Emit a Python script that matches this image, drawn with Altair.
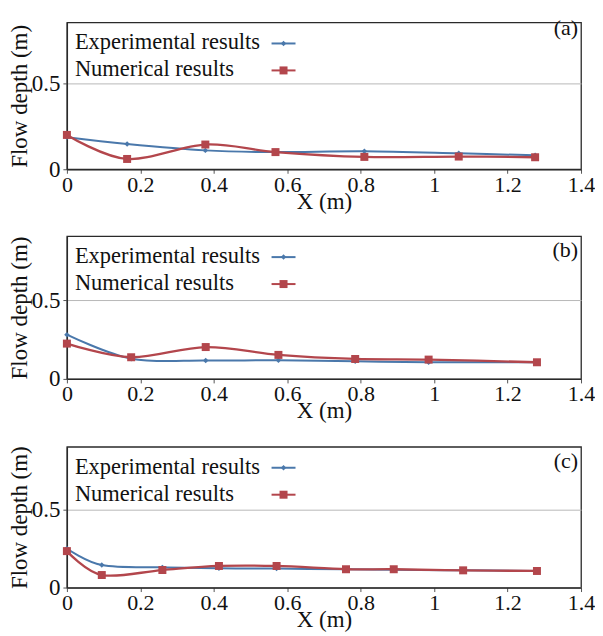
import altair as alt
import pandas as pd

# ---------------- data ----------------
series_names = ["Experimental results", "Numerical results"]
x_ticks = [0, 0.2, 0.4, 0.6, 0.8, 1.0, 1.2, 1.4]
y_ticks = [0, 0.5]

a_x = [0, 0.164, 0.377, 0.568, 0.81, 1.067, 1.275]
a_exp = [0.186, 0.147, 0.11, 0.10, 0.105, 0.093, 0.081]
a_num = [0.20, 0.06, 0.144, 0.10, 0.072, 0.074, 0.07]

b_x = [0, 0.175, 0.378, 0.576, 0.785, 0.985, 1.28]
b_exp = [0.282, 0.129, 0.117, 0.119, 0.112, 0.106, 0.106]
b_num = [0.225, 0.138, 0.203, 0.153, 0.127, 0.123, 0.106]

c_x = [0, 0.095, 0.26, 0.414, 0.571, 0.76, 0.89, 1.079, 1.28]
c_exp = [0.25, 0.144, 0.129, 0.123, 0.121, 0.117, 0.114, 0.11, 0.106]
c_num = [0.233, 0.08, 0.112, 0.138, 0.138, 0.117, 0.117, 0.11, 0.106]

panel_labels = ["(a)", "(b)", "(c)"]

# ---------------- style ----------------
FONT = "Liberation Serif"
BLUE = "#4a78ab"
RED = "#b3464c"
W = 515


def panel(xs, exp, num, label, h, ymax, label_y):
    df_e = pd.DataFrame({"x": xs, "y": exp})
    df_n = pd.DataFrame({"x": xs, "y": num})
    xenc = alt.X(
        "x:Q",
        scale=alt.Scale(domain=[0, 1.4], nice=False, zero=False),
        axis=alt.Axis(
            values=x_ticks, format="~g", title="X (m)", grid=False,
            labelFlush=False, labelOverlap=False, labelPadding=1,
            tickSize=4, titlePadding=-5, labelFontSize=22,
        ),
    )
    yenc = alt.Y(
        "y:Q",
        scale=alt.Scale(domain=[0, ymax], nice=False, zero=False),
        axis=alt.Axis(
            values=y_ticks, format="~g", title="Flow depth (m)", grid=True,
            labelPadding=3, tickSize=4, titleAngle=270, titleX=-47,
            titleY=h / 2, titleBaseline="middle", titleAlign="center",
        ),
    )
    line_e = alt.Chart(df_e).mark_line(
        color=BLUE, strokeWidth=2, interpolate="cardinal"
    ).encode(x=xenc, y=yenc)
    line_n = alt.Chart(df_n).mark_line(
        color=RED, strokeWidth=2.3, interpolate="cardinal"
    ).encode(x=xenc, y=yenc)
    pt_e = alt.Chart(df_e).mark_point(
        shape="diamond", filled=True, size=30, color=BLUE, opacity=1
    ).encode(x=xenc, y=yenc)
    pt_n = alt.Chart(df_n).mark_point(
        shape="square", filled=True, size=64, color=RED, opacity=1
    ).encode(x=xenc, y=yenc)

    layers = [line_e, line_n, pt_e, pt_n]

    # in-plot legend: label text followed by a line sample with marker
    leg_rows = [(series_names[0], BLUE, "diamond", 30, 27, 21),
                (series_names[1], RED, "square", 64, 54, 48)]
    for name, col, shp, sz, ty, sy in leg_rows:
        ldf = pd.DataFrame({"label": [name]})
        layers.append(
            alt.Chart(ldf).mark_text(
                align="left", baseline="alphabetic", font=FONT,
                fontSize=22.5, color="#111"
            ).encode(x=alt.value(8), y=alt.value(ty), text="label:N")
        )
        layers.append(
            alt.Chart(ldf).mark_rule(color=col, strokeWidth=2).encode(
                x=alt.value(205), x2=alt.value(229), y=alt.value(sy)
            )
        )
        layers.append(
            alt.Chart(ldf).mark_point(
                shape=shp, filled=True, size=sz, color=col, opacity=1
            ).encode(x=alt.value(217), y=alt.value(sy))
        )

    pdf = pd.DataFrame({"label": [label]})
    layers.append(
        alt.Chart(pdf).mark_text(
            align="right", baseline="alphabetic", font=FONT, fontSize=22,
            color="#111"
        ).encode(x=alt.value(W - 3), y=alt.value(label_y), text="label:N")
    )
    return alt.layer(*layers).properties(width=W, height=h)


pa = panel(a_x, a_exp, a_num, panel_labels[0], 147, 0.855, 13)
pb = panel(b_x, b_exp, b_num, panel_labels[1], 143, 0.91, 21)
pc = panel(c_x, c_exp, c_num, panel_labels[2], 141, 0.90, 21)

chart = (
    alt.vconcat(pa, pb, pc, spacing=21)
    .properties(padding={"left": 0, "top": 8, "right": -1, "bottom": 0})
    .configure(font=FONT)
    .configure_view(stroke="#2a2a2a", strokeWidth=1.3)
    .configure_axis(
        labelFont=FONT, titleFont=FONT, labelFontSize=23, titleFontSize=23,
        labelColor="#111", titleColor="#111", titleFontWeight="normal",
        domainColor="#2a2a2a", domainWidth=1.3, tickColor="#555",
        gridColor="#b8b8b8", gridWidth=1,
    )
)

chart.save("out.html", embed_options={"renderer": "svg", "actions": False})
